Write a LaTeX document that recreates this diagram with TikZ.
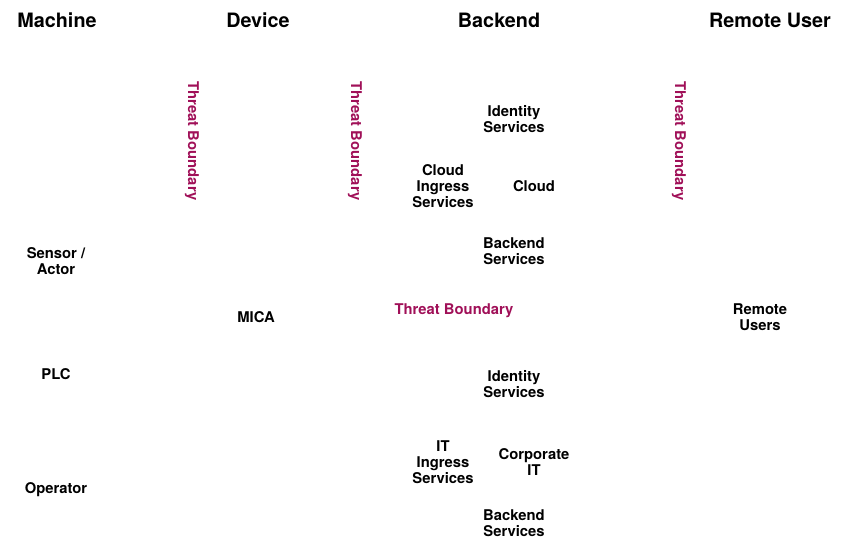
\documentclass[tikz,border=0pt]{standalone}
\usepackage{fontspec}
\setmainfont{TeX Gyre Heros}
\definecolor{threat}{RGB}{160,16,88}
\begin{document}
\begin{tikzpicture}[x=1pt,y=-1pt]
    \tikzstyle{title} = [font=\fontsize{19.8}{22}\selectfont\bfseries,
    inner sep=0pt];
    \tikzstyle{lbl} = [font=\fontsize{14.8}{16}\selectfont\bfseries,
    align=center, inner sep=0pt];
    \tikzstyle{tb} = [font=\fontsize{14.8}{16}\selectfont\bfseries,
    text=threat, inner sep=0pt];

    \useasboundingbox (0,0) rectangle (844,539);

    % column titles
    \node[title] (machine) at (57,20){Machine};
    \node[title] (device) at (258,20){Device};
    \node[title] (backend) at (499,20){Backend};
    \node[title] (remote) at (770,20){Remote User};

    % threat boundaries
    \node[tb,rotate=-90] (tb1) at (192,141){Threat Boundary};
    \node[tb,rotate=-90] (tb2) at (355,141){Threat Boundary};
    \node[tb,rotate=-90] (tb3) at (679,141){Threat Boundary};
    \node[tb] (tb4) at (454,311){Threat Boundary};

    % machine
    \node[lbl] (sensor) at (56,261){Sensor /\\Actor};
    \node[lbl] (plc) at (56,374){PLC};
    \node[lbl] (operator) at (56,490){Operator};

    % device
    \node[lbl] (mica) at (256,317){MICA};

    % backend, cloud
    \node[lbl] (cid) at (514,119){Identity\\Services};
    \node[lbl] (cingress) at (443,186){Cloud\\Ingress\\Services};
    \node[lbl] (cloud) at (534,186){Cloud};
    \node[lbl] (cbackend) at (514,251){Backend\\Services};

    % backend, corporate IT
    \node[lbl] (itid) at (514,384){Identity\\Services};
    \node[lbl] (itingress) at (443,462){IT\\Ingress\\Services};
    \node[lbl] (corpit) at (534,462){Corporate\\IT};
    \node[lbl] (itbackend) at (514,523){Backend\\Services};

    % remote user
    \node[lbl] (rusers) at (760,317){Remote\\Users};

  \end{tikzpicture}
\end{document}
